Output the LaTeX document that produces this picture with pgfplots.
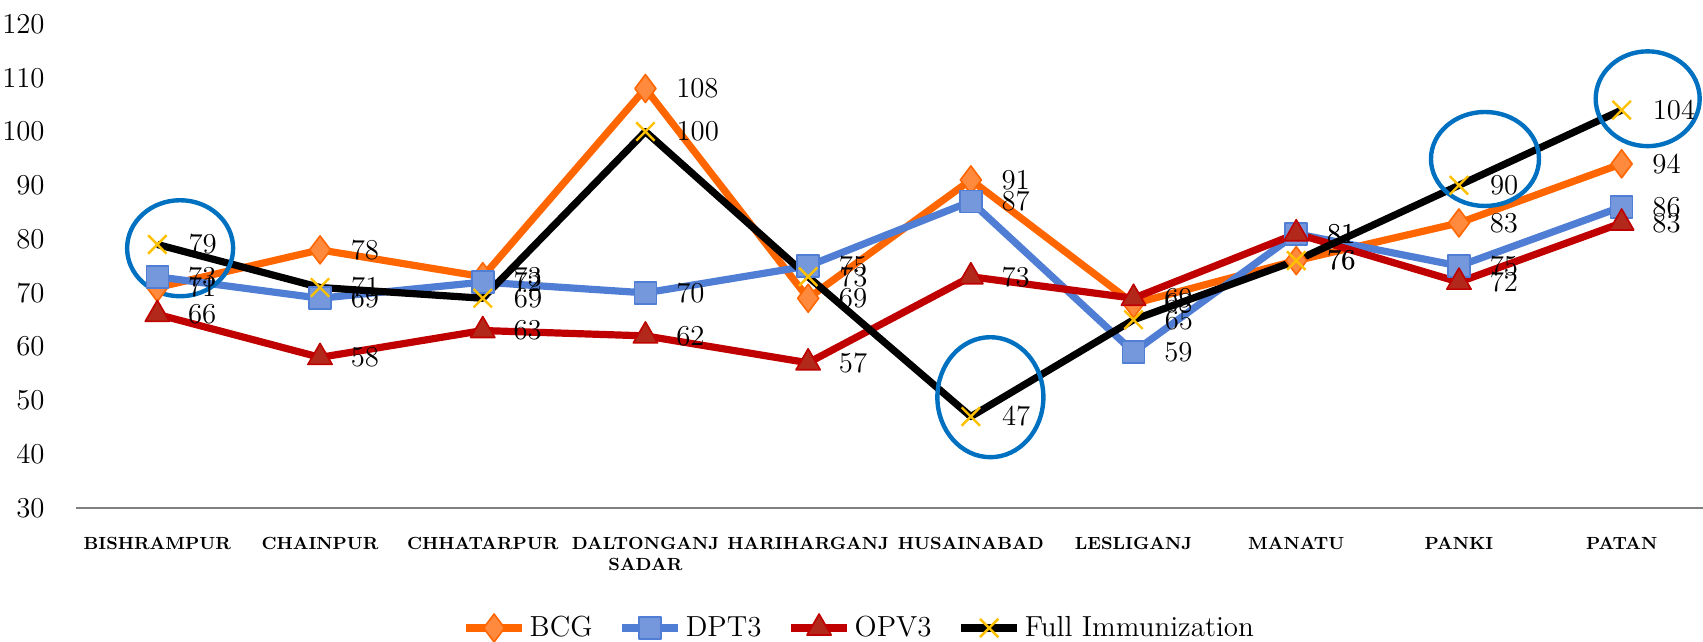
\documentclass[border=0pt]{standalone}
\usepackage{pgfplots}
\pgfplotsset{compat=1.18}
\definecolor{bcgline}{RGB}{255,102,0}
\definecolor{bcgfill}{RGB}{255,137,60}
\definecolor{dptline}{RGB}{79,126,212}
\definecolor{dptfill}{RGB}{116,152,219}
\definecolor{opvline}{RGB}{192,0,0}
\definecolor{opvfill}{RGB}{178,40,26}
\definecolor{xmark}{RGB}{255,192,0}
\definecolor{ell}{RGB}{0,112,192}
\begin{document}
\begin{tikzpicture}
\begin{axis}[name=ax, scale only axis, width=813.5pt, height=242pt,
 xmin=-0.5, xmax=9.5, ymin=30, ymax=120, ytick={30,40,...,120}, xtick={0,...,9},
 xticklabels={BISHRAMPUR,CHAINPUR,CHHATARPUR,{DALTONGANJ\\SADAR},HARIHARGANJ,HUSAINABAD,LESLIGANJ,MANATU,PANKI,PATAN},
 axis x line*=bottom, axis y line*=left, y axis line style={draw=none},
 x axis line style={draw=gray, line width=1.2pt},
 major tick length=0pt,
 ticklabel style={font=\fontsize{14}{16}\selectfont},
 xticklabel style={font=\fontsize{8.8}{10.5}\selectfont\bfseries, align=center, anchor=north, inner sep=0pt, yshift=-14.5pt},
 yticklabel style={anchor=east, inner sep=0pt, xshift=-15.5pt},
 clip=false,
 nodes near coords,
 nodes near coords style={text=black, font=\fontsize{14}{16}\selectfont, anchor=west, inner sep=0pt, xshift=15pt},
 legend style={at={(0.482,-0.248)}, anchor=center, draw=none, legend columns=4, font=\fontsize{14.5}{16}\selectfont, /tikz/every even column/.append style={column sep=11pt}},
 legend image code/.code={\draw[mark repeat=2, mark phase=2] plot coordinates {(0pt,0pt)(14pt,0pt)(28pt,0pt)};},
 every axis plot/.append style={line join=round},
]
\addplot[bcgline, line width=3.6pt, mark=diamond*, mark size=7pt, mark options={fill=bcgfill, draw=bcgline, line width=0.8pt}]
 coordinates {(0,71)(1,78)(2,73)(3,108)(4,69)(5,91)(6,68)(7,76)(8,83)(9,94)};
\addlegendentry{BCG}
\addplot[dptline, line width=3.6pt, mark=square*, mark size=5.5pt, mark options={fill=dptfill, draw=dptline, line width=0.8pt}]
 coordinates {(0,73)(1,69)(2,72)(3,70)(4,75)(5,87)(6,59)(7,81)(8,75)(9,86)};
\addlegendentry{DPT3}
\addplot[opvline, line width=3.6pt, mark=triangle*, mark size=7pt, mark options={fill=opvfill, draw=opvline, line width=0.8pt}]
 coordinates {(0,66)(1,58)(2,63)(3,62)(4,57)(5,73)(6,69)(7,81)(8,72)(9,83)};
\addlegendentry{OPV3}
\addplot[black, line width=3.6pt, mark=x, mark size=6.5pt, mark options={draw=xmark, line width=1.2pt}]
 coordinates {(0,79)(1,71)(2,69)(3,100)(4,73)(5,47)(6,65)(7,76)(8,90)(9,104)};
\addlegendentry{Full Immunization}
\draw[ell, line width=2.2pt] (axis cs:0.14,78.3) ellipse [x radius=26.5pt, y radius=24pt];
\draw[ell, line width=2.2pt] (axis cs:5.12,50.6) ellipse [x radius=26.5pt, y radius=30pt];
\draw[ell, line width=2.2pt] (axis cs:8.16,94.9) ellipse [x radius=27pt, y radius=23.5pt];
\draw[ell, line width=2.2pt] (axis cs:9.16,106.1) ellipse [x radius=26pt, y radius=23.7pt];
\end{axis}
\pgfresetboundingbox
\path[use as bounding box] ([shift={(-38pt,-67pt)}]ax.south west) rectangle ([shift={(0pt,12pt)}]ax.north east);
\end{tikzpicture}
\end{document}
